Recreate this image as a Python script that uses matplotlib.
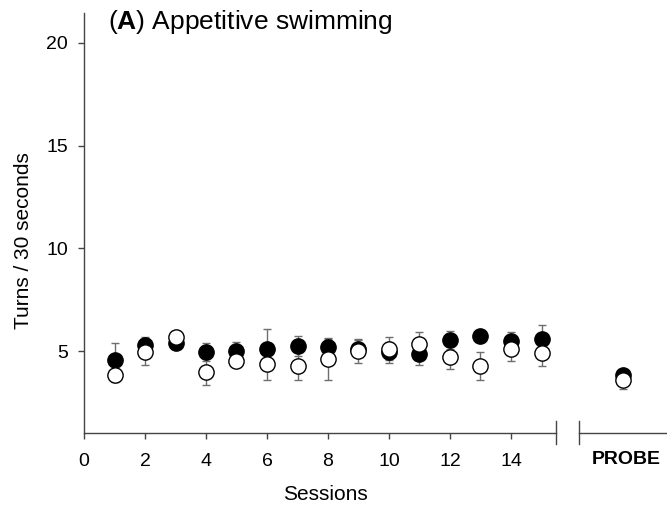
import matplotlib
matplotlib.use("Agg")
import matplotlib.pyplot as plt
from matplotlib.transforms import blended_transform_factory

plt.rcParams['font.family'] = ['Liberation Sans', 'DejaVu Sans']
plt.rcParams['mathtext.fontset'] = 'custom'
plt.rcParams['mathtext.rm'] = 'Liberation Sans'
plt.rcParams['mathtext.bf'] = 'Liberation Sans:bold'

# Data
sessions = list(range(1, 16))
filled_mean = [4.58, 5.29, 5.40, 4.97, 5.02, 5.13, 5.24, 5.21, 5.13, 4.95, 4.89, 5.54, 5.73, 5.49, 5.62]
filled_err = [0.84, 0.41, 0.15, 0.43, 0.43, 0.93, 0.49, 0.42, 0.41, 0.52, 0.57, 0.45, 0.20, 0.45, 0.65]
open_mean = [3.83, 4.97, 5.67, 3.99, 4.53, 4.40, 4.28, 4.60, 5.02, 5.13, 5.34, 4.72, 4.27, 5.13, 4.94]
open_err = [0.30, 0.62, 0.15, 0.65, 0.30, 0.78, 0.69, 0.98, 0.59, 0.57, 0.60, 0.56, 0.68, 0.62, 0.66]
probe_filled_mean = 3.85
probe_filled_err = 0.20
probe_open_mean = 3.60
probe_open_err = 0.42

xtick_vals = [0, 2, 4, 6, 8, 10, 12, 14]
ytick_vals = [5, 10, 15, 20]
probe_label = "PROBE"

probe_x = 17.67
break_left = 15.48
break_right = 16.24

W, H = 667, 509
fig = plt.figure(figsize=(W / 100, H / 100), dpi=100)
ax = fig.add_axes([84 / W, (H - 432.5) / H, (W - 84) / W, (432.5 - 13) / H])

xmin, xmax = 0, (W - 84) / 30.5
ymin, ymax = 1.05, 21.45
ax.set_xlim(xmin, xmax)
ax.set_ylim(ymin, ymax)

ecol = '#6e6e6e'
ms = 11
# error bars
ax.errorbar(sessions, filled_mean, yerr=filled_err, fmt='none', ecolor=ecol,
            elinewidth=1, capsize=3.0, capthick=1, zorder=2)
ax.errorbar(sessions, open_mean, yerr=open_err, fmt='none', ecolor=ecol,
            elinewidth=1, capsize=3.0, capthick=1, zorder=2)
ax.errorbar([probe_x], [probe_filled_mean], yerr=[probe_filled_err], fmt='none', ecolor=ecol,
            elinewidth=1, capsize=3.0, capthick=1, zorder=2)
ax.errorbar([probe_x], [probe_open_mean], yerr=[probe_open_err], fmt='none', ecolor=ecol,
            elinewidth=1, capsize=3.0, capthick=1, zorder=2)
# markers
ax.plot(sessions, filled_mean, 'o', ms=ms, mfc='black', mec='black', mew=1, zorder=3)
ax.plot([probe_x], [probe_filled_mean], 'o', ms=ms, mfc='black', mec='black', mew=1, zorder=3)
ax.plot(sessions, open_mean, 'o', ms=ms, mfc='white', mec='black', mew=1, zorder=4)
ax.plot([probe_x], [probe_open_mean], 'o', ms=ms, mfc='white', mec='black', mew=1, zorder=4)

# spines
acol = '#444444'
for s in ['top', 'right', 'bottom']:
    ax.spines[s].set_visible(False)
ax.spines['left'].set_color(acol)
ax.spines['left'].set_linewidth(1.0)

tr = blended_transform_factory(ax.transData, ax.transAxes)
ax.plot([xmin, break_left], [0, 0], color=acol, lw=1.0, transform=tr, clip_on=False, zorder=5)
ax.plot([break_right, xmax], [0, 0], color=acol, lw=1.0, transform=tr, clip_on=False, zorder=5)
h = 419.5
for bx in (break_left, break_right):
    ax.plot([bx, bx], [-11.5 / h, 12 / h], color=acol, lw=1.0, transform=tr, clip_on=False, zorder=5)

ax.set_xticks(xtick_vals)
ax.set_xticklabels([str(v) for v in xtick_vals])
ax.set_yticks(ytick_vals)
ax.set_yticklabels([str(v) for v in ytick_vals])
ax.tick_params(axis='x', direction='out', length=4.5, width=1, color=acol, labelsize=14, pad=10)
ax.tick_params(axis='y', direction='out', length=4.5, width=1, color=acol, labelsize=14, pad=7)

ax.text(probe_x + 0.1, -(460 - 432.5) / h, probe_label, transform=tr, ha='center', va='center',
        fontsize=14, fontweight='bold')

ax.set_xlabel('Sessions', fontsize=15)
ax.set_ylabel('Turns / 30 seconds', fontsize=15)
ax.xaxis.set_label_coords((325 - 84) / (W - 84), -(495 - 432.5) / h)
ax.xaxis.label.set_va('center')
ax.yaxis.set_label_coords(-(84 - 24) / (W - 84), (432.5 - 241) / h)
ax.yaxis.label.set_va('center')

fig.text(108 / W, 1 - 29 / H, r'($\bf{A}$) Appetitive swimming', fontsize=19, ha='left', va='baseline')

fig.savefig('out.png', dpi=100)
